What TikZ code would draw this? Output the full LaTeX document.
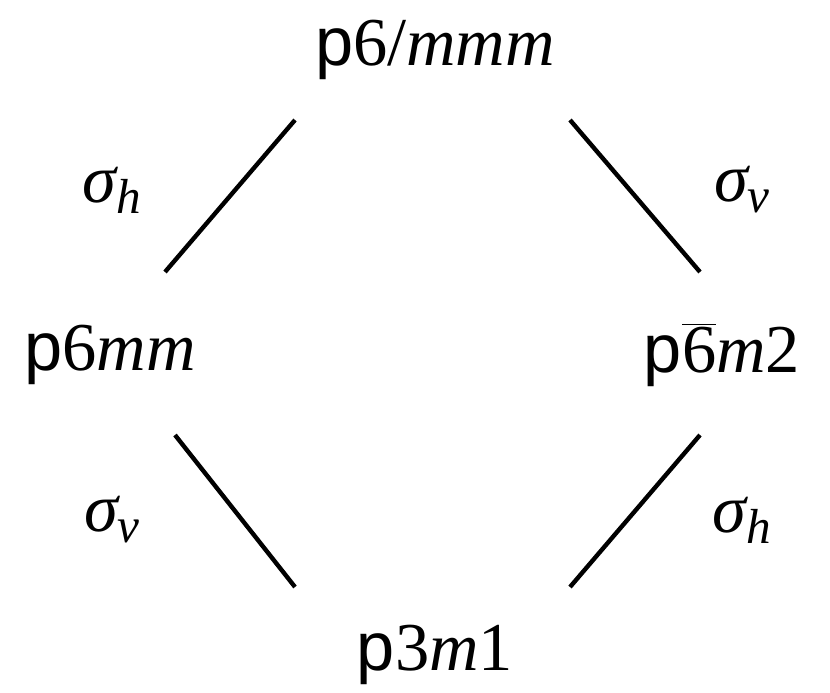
\documentclass[tikz,border=0pt]{standalone}
\usepackage{fontspec}
\setmainfont{Liberation Serif}
\newfontfamily\pfont{Liberation Sans}
\usepackage{tikz}
\usetikzlibrary{positioning,calc}
\newcommand{\grp}[1]{{\pfont p}#1}
\newcommand{\sig}[1]{{\itshape σ\raisebox{-0.35ex}{\fontsize{28}{30}\selectfont #1}}}
\begin{document}
\begin{tikzpicture}[x=0.02cm,y=-0.02cm,
	every node/.style={font=\fontsize{39}{46}\selectfont, inner sep=0pt},
	link/.style={line width=2.5pt}]
	\useasboundingbox (0,0) rectangle (830,692);
	\node (pmmm)	at	(435, 50)	{\grp{6/\textit{mmm}}};
	\node (pmm)	at	(110, 355)	{\grp{6\textit{mm}}};
	\node (pmtwo)	at	(722, 355)	{\grp{$\overline{\mbox{6}}$\textit{m}2}};
	\node (pthree)	at	(435, 655)	{\grp{3\textit{m}1}};
	\node (shtl)	at	(112, 190)	{\sig{h}};
	\node (svtr)	at	(742, 190)	{\sig{v}};
	\node (svbl)	at	(112, 520)	{\sig{v}};
	\node (shbr)	at	(742, 520)	{\sig{h}};
	\coordinate (atl) at (295, 120);
	\coordinate (btl) at (165, 272);
	\coordinate (atr) at (570, 120);
	\coordinate (btr) at (700, 272);
	\coordinate (abl) at (175, 435);
	\coordinate (bbl) at (295, 587);
	\coordinate (abr) at (700, 435);
	\coordinate (bbr) at (570, 587);
	\draw[link] (atl) -- (btl);
	\draw[link] (atr) -- (btr);
	\draw[link] (abl) -- (bbl);
	\draw[link] (abr) -- (bbr);
\end{tikzpicture}
\end{document}
